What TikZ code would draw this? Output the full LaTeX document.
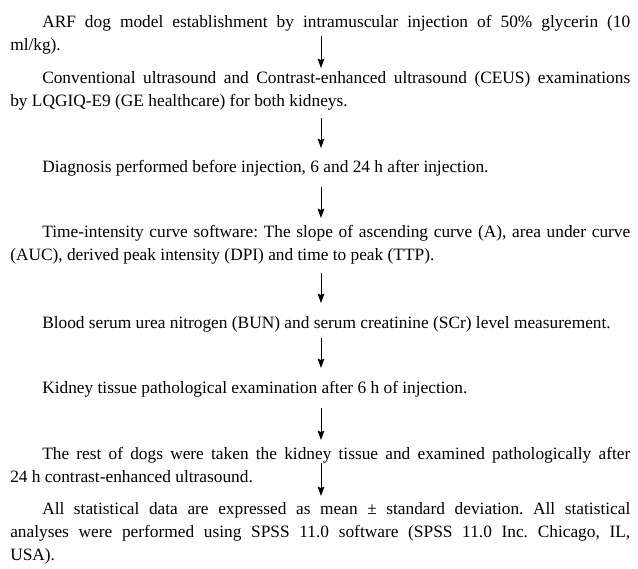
\documentclass[tikz,border=0pt]{standalone}
\usepackage{fontspec}
\setmainfont{Liberation Serif}
\usetikzlibrary{arrows.meta}

\tikzset{
  para/.style={anchor=base west, inner sep=0pt, text width=465pt, align=justify,
    font=\fontsize{13}{17.25}\selectfont\frenchspacing},
  flow/.style={-{Stealth[length=7pt,width=5pt,inset=1pt]}, line width=0.75pt}
}
\newcommand{\ind}{\hspace*{24pt}}

\begin{document}
\begin{tikzpicture}[x=0.75pt, y=-0.75pt]
\useasboundingbox (0,0) rectangle (638,568);

\node[para] (model) at (10,27) {\ind ARF dog model establishment by intramuscular injection of 50\% glycerin (10\linebreak ml/kg).};
\node[para] (ceus) at (10,83) {\ind Conventional ultrasound and Contrast-enhanced ultrasound (CEUS) examinations\linebreak by LQGIQ-E9 (GE healthcare) for both kidneys.};
\node[para] (timing) at (10,172) {\ind Diagnosis performed before injection, 6 and 24 h after injection.};
\node[para] (curve) at (10,237) {\ind Time-intensity curve software: The slope of ascending curve (A), area under curve\linebreak (AUC), derived peak intensity (DPI) and time to peak (TTP).};
\node[para] (serum) at (10,328) {\ind Blood serum urea nitrogen (BUN) and serum creatinine (SCr) level measurement.};
\node[para] (early) at (10,393) {\ind Kidney tissue pathological examination after 6 h of injection.};
\node[para] (late) at (10,459) {\ind The rest of dogs were taken the kidney tissue and examined pathologically after\linebreak 24 h contrast-enhanced ultrasound.};
\node[para] (stats) at (10,514) {\ind All statistical data are expressed as mean ± standard deviation. All statistical\linebreak analyses were performed using SPSS 11.0 software (SPSS 11.0 Inc. Chicago, IL,\linebreak USA).};

% arrow ends between the steps
\foreach \top/\bot [count=\i] in {36/68, 118/148, 187/218, 273/303, 338/368, 408/440, 463/496} {
  \coordinate (up\i) at (321,\top);
  \coordinate (dn\i) at (321,\bot);
  \draw[flow] (up\i) -- (dn\i);
}
\end{tikzpicture}
\end{document}
